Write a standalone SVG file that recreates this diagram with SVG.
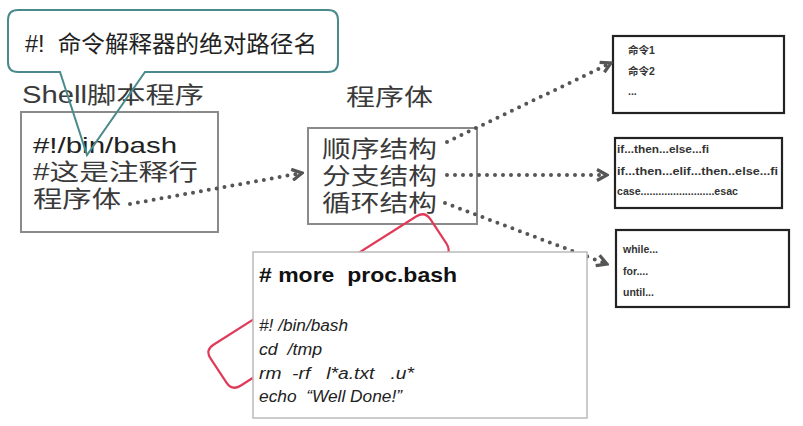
<svg xmlns="http://www.w3.org/2000/svg" width="803" height="426" viewBox="0 0 803 426">
<defs>
<style>
.cjk{font-family:"Liberation Sans","Noto Sans CJK SC",sans-serif;fill:#3a3a3a;font-size:23px}
.box{fill:#fff;stroke:#8a8a8a;stroke-width:2}
.rbox{fill:#fff;stroke:#222;stroke-width:2.2}
.small{font-family:"Liberation Sans","Noto Sans CJK SC",sans-serif;font-weight:bold;font-size:10.5px;fill:#333}
.dot{fill:none;stroke:#555;stroke-width:4;stroke-dasharray:0 8;stroke-linecap:round}
.code{font-family:"Liberation Sans",sans-serif;font-style:italic;font-size:16px;fill:#222;white-space:pre}
</style>
<marker id="chev" viewBox="0 0 14 14" refX="12" refY="7" markerWidth="14" markerHeight="14" markerUnits="userSpaceOnUse" orient="auto">
<path d="M2,1.5 L12,7 L2,12.5" fill="none" stroke="#555" stroke-width="3.2" stroke-linejoin="miter"/>
</marker>
</defs>
<rect width="803" height="426" fill="#fff"/>

<g id="title-shell">
<text x="22" y="103" class="cjk" textLength="182" lengthAdjust="spacingAndGlyphs">Shell脚本程序</text>
</g>
<g id="title-body">
<text x="346" y="105" class="cjk" textLength="87" lengthAdjust="spacingAndGlyphs">程序体</text>
</g>

<g id="shell-box">
<rect x="21" y="112" width="197" height="120" class="box"/>
<text x="33" y="153" class="cjk" style="fill:#222;font-size:22px" textLength="144" lengthAdjust="spacingAndGlyphs">#!/bin/bash</text>
<text x="33" y="180" class="cjk" textLength="165" lengthAdjust="spacingAndGlyphs">#这是注释行</text>
<text x="33" y="207" class="cjk" textLength="88" lengthAdjust="spacingAndGlyphs">程序体</text>
</g>

<g id="body-box">
<rect x="308" y="128" width="169" height="96" class="box"/>
<text x="322" y="157" class="cjk" textLength="115" lengthAdjust="spacingAndGlyphs">顺序结构</text>
<text x="322" y="184" class="cjk" textLength="115" lengthAdjust="spacingAndGlyphs">分支结构</text>
<text x="322" y="211" class="cjk" textLength="115" lengthAdjust="spacingAndGlyphs">循环结构</text>
</g>

<g id="seq-box">
<rect x="613" y="36" width="171" height="77" class="rbox"/>
<text x="628" y="54" class="small">命令1</text>
<text x="628" y="75" class="small">命令2</text>
<text x="628" y="95" class="small">...</text>
</g>

<g id="branch-box">
<rect x="615" y="138" width="167" height="70" class="rbox"/>
<text x="617" y="153" class="small" textLength="92" lengthAdjust="spacingAndGlyphs">if...then...else...fi</text>
<text x="617" y="175" class="small" textLength="161" lengthAdjust="spacingAndGlyphs">if...then...elif...then..else...fi</text>
<text x="617" y="195" class="small" textLength="121" lengthAdjust="spacingAndGlyphs">case.........................esac</text>
</g>

<g id="loop-box">
<rect x="616" y="230" width="173" height="77" class="rbox"/>
<text x="623" y="253" class="small">while...</text>
<text x="623" y="275" class="small">for....</text>
<text x="623" y="296" class="small">until...</text>
</g>

<g id="connectors">
<path d="M130,204 L302,173" class="dot" marker-end="url(#chev)"/>
<path d="M447,142 L611,63" class="dot" marker-end="url(#chev)"/>
<path d="M447,175 L607,175" class="dot" marker-end="url(#chev)"/>
<path d="M445,203 L607,264" class="dot" marker-end="url(#chev)"/>
</g>

<g id="red-callout">
<path d="M416.5,216.3 Q425,211 430.5,219.4 L446.5,243.6 Q452,252 443.5,257.3 L240.5,385.7 Q232,391 226.5,382.6 L210.5,358.4 Q205,350 213.5,344.7 Z" fill="none" stroke="#e03a58" stroke-width="2.2"/>
</g>

<g id="code-box">
<rect x="253" y="252" width="334" height="166" fill="#fff" stroke="#bbb" stroke-width="1.5"/>
<text x="259" y="282" font-family="Liberation Sans, sans-serif" font-weight="bold" font-size="21" fill="#111" style="white-space:pre" textLength="198" lengthAdjust="spacingAndGlyphs"># more  proc.bash</text>
<text x="259" y="331" class="code" textLength="89" lengthAdjust="spacingAndGlyphs">#! /bin/bash</text>
<text x="259" y="355" class="code" textLength="63" lengthAdjust="spacingAndGlyphs">cd  /tmp</text>
<text x="259" y="379" class="code" textLength="155" lengthAdjust="spacingAndGlyphs">rm  -rf   l*a.txt   .u*</text>
<text x="259" y="402" class="code" textLength="143" lengthAdjust="spacingAndGlyphs">echo  “Well Done!”</text>
</g>

<g id="callout">
<path d="M18,10 H328 Q338,10 338,20 V62 Q338,72 328,72 H145 L87,155 L60,72 H18 Q8,72 8,62 V20 Q8,10 18,10 Z" fill="none" stroke="#4a8a8c" stroke-width="2"/>
<text x="25" y="52" font-family="Liberation Sans, Noto Sans CJK SC, sans-serif" font-size="23" fill="#222" style="white-space:pre" textLength="292" lengthAdjust="spacingAndGlyphs">#!  命令解释器的绝对路径名</text>
</g>
</svg>
